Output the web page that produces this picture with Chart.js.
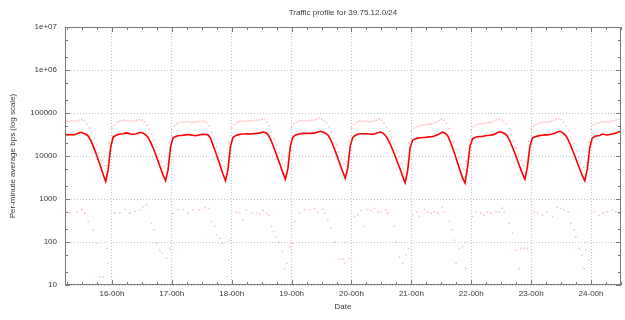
<!DOCTYPE html>
<html><head><meta charset="utf-8">
<script src="https://cdn.jsdelivr.net/npm/chart.js@4.4.1/dist/chart.umd.min.js"></script>
<style>html,body{margin:0;padding:0;background:#fff;}#wrap{width:625px;height:320px;}</style>
</head><body><div id="wrap"><canvas id="c" width="625" height="320"></canvas></div>
<script>
const TITLE = 'Traffic profile for 39.75.12.0/24';
const Y_TITLE = 'Per-minute average bps (log scale)';
const X_TITLE = 'Date';
const xTickDays = [16, 17, 18, 19, 20, 21, 22, 23, 24];
const yTickValues = [10, 100, 1000, 10000, 100000, 1000000, 10000000];
const yTickLabels = ['10', '100', '1000', '10000', '100000', '1e+06', '1e+07'];
const X_MIN = 15 + 5.2 / 24;
const X_MAX = 24.5;

// hourly average bps (samples at hh:30); day 15 starts at 04:30, others at 00:30
const avg15 = [31000, 31500, 31000, 31500, 31000, 32000, 34000, 35500, 34000, 32000, 29000, 23000, 17000, 12000, 8200, 5600, 3700, 2550, 4800, 16000];
const avg16 = [27500, 30000, 31500, 32500, 33000, 34500, 34000, 32500, 32000, 32500, 34000, 35500, 34000, 31000, 27000, 21000, 15500, 11000, 7600, 5200, 3600, 2650, 4800, 16500];
const avg17 = [26500, 28500, 29500, 30000, 30500, 31000, 31500, 31000, 30500, 29500, 30500, 31500, 32000, 31500, 31000, 26000, 18000, 12500, 8500, 5700, 3800, 2650, 4800, 16500];
const avg18 = [27000, 29500, 31000, 32000, 32500, 32500, 33000, 32500, 33000, 33500, 34000, 34500, 36000, 35000, 32000, 25000, 18000, 12500, 8700, 6000, 4100, 2880, 5000, 17000];
const avg19 = [27500, 30500, 32000, 33000, 33500, 33500, 33500, 33500, 34000, 34500, 36000, 37500, 36000, 34000, 31000, 25000, 18500, 13000, 9000, 6200, 4300, 3030, 5200, 17000];
const avg20 = [27000, 30000, 32000, 33000, 33000, 33000, 32500, 32500, 32000, 33000, 34500, 36500, 34500, 30500, 25000, 19000, 14000, 10000, 7000, 4900, 3400, 2390, 4500, 15500];
const avg21 = [23500, 25000, 26000, 26500, 27000, 27000, 27500, 28000, 28500, 29500, 31000, 33500, 36000, 34000, 30000, 22000, 15500, 10500, 7000, 4600, 3100, 2350, 5500, 17000];
const avg22 = [25000, 27000, 28000, 28500, 28500, 29500, 30000, 30500, 31000, 32500, 35000, 36500, 35000, 33000, 29000, 22000, 16000, 11500, 8000, 5500, 3900, 2880, 5500, 17000];
const avg23 = [26000, 28000, 29000, 30000, 30500, 31000, 31000, 31500, 32500, 34000, 36000, 37500, 35500, 31500, 26000, 19500, 14000, 10000, 7000, 4900, 3500, 2660, 5000, 16000];
const avg24 = [26000, 28500, 29500, 30000, 32500, 31500, 31000, 31500, 32500, 33500, 35000, 37000, 37500];

// hourly maxima (faint dots above); day 15 starts at 05:00, others at 00:00
const max15 = [62000, 64000, 63000, 66000, 64000, 65000, 68000, 70000, 66000, 55000, 45000, 36000, 26000, 18000, 12000, 8000, 6000, 6000, 20000];
const max16 = [44000, 52000, 60000, 64000, 66000, 68000, 67000, 65000, 64000, 66000, 67000, 70000, 68000, 62000, 52000, 42000, 32000, 23000, 16000, 11000, 7500, 5800, 6500, 21000];
const max17 = [42000, 50000, 56000, 60000, 61000, 62000, 63000, 62000, 60000, 61000, 62000, 64000, 65000, 64000, 60000, 50000, 36000, 25000, 17000, 11500, 7800, 5800, 6500, 21000];
const max18 = [45000, 54000, 60000, 63000, 65000, 64000, 66000, 65000, 66000, 67000, 68000, 69000, 72000, 70000, 62000, 50000, 36000, 25000, 17500, 12000, 8200, 6200, 7000, 22000];
const max19 = [46000, 56000, 62000, 65000, 66000, 67000, 66000, 67000, 68000, 69000, 72000, 75000, 72000, 67000, 60000, 48000, 36000, 26000, 18000, 12500, 8500, 6500, 7500, 22000];
const max20 = [44000, 54000, 61000, 64000, 65000, 64000, 64000, 63000, 63000, 65000, 68000, 72000, 68000, 58000, 47000, 37000, 27000, 19000, 13500, 9500, 6800, 5000, 6500, 20000];
const max21 = [38000, 44000, 48000, 50000, 52000, 53000, 54000, 55000, 56000, 58000, 61000, 66000, 72000, 68000, 58000, 43000, 30000, 21000, 14000, 9300, 6400, 5000, 7500, 22000];
const max22 = [40000, 48000, 53000, 55000, 56000, 57000, 58000, 60000, 61000, 64000, 69000, 72000, 69000, 64000, 56000, 43000, 31000, 22000, 15500, 11000, 7800, 6000, 7500, 22000];
const max23 = [42000, 50000, 55000, 58000, 60000, 61000, 61000, 62000, 64000, 67000, 71000, 74000, 70000, 61000, 50000, 38000, 27000, 19500, 13500, 9500, 7000, 5500, 7000, 21000];
const max24 = [42000, 52000, 57000, 59000, 62000, 63000, 61000, 62000, 64000, 66000, 69000, 72000, 74000];

// minima (faint dots below): [hour of day, bps]
const min15 = [[5.2,620],[7.2,470],[9.9,500],[11.9,570],[13.2,470],[14.5,300],[16.5,190],[17.9,93],[19.2,15.6],[20.5,15.6],[21.9,71],[22.5,32]];
const min16 = [[1.2,470],[3.2,480],[5.2,570],[7.2,470],[9.2,510],[11.2,560],[12.5,660],[13.9,730],[15.9,270],[16.8,190],[17.9,93],[19.2,65],[20.1,55],[21.9,42],[23.2,71]];
const min17 = [[0.5,470],[2.5,560],[4.5,570],[6.5,470],[8.5,560],[11.2,560],[13.2,640],[14.9,610],[15.9,300],[17.2,230],[17.9,145],[19.2,122],[20.3,93],[21.9,15.6],[22.9,38],[23.2,110]];
const min18 = [[1.9,500],[3.2,480],[4.5,320],[5.9,560],[7.9,470],[9.9,480],[11.2,450],[12.5,540],[13.9,470],[14.9,420],[15.9,230],[16.8,175],[17.9,130],[18.9,100],[20.3,60],[21.2,24],[22.1,32],[23.2,78]];
const min19 = [[0.3,93],[1.2,300],[3.2,470],[5.2,570],[7.2,560],[9.2,600],[10.5,500],[12.5,570],[13.2,470],[14.5,320],[15.9,210],[17.2,100],[19.2,40],[20.5,40],[21.2,32],[23.2,40]];
const min20 = [[1.2,390],[2.5,420],[3.9,540],[5.2,230],[6.5,570],[7.9,540],[9.2,610],[10.5,500],[11.9,500],[13.9,560],[14.5,470],[17.2,230],[17.9,100],[19.2,45],[20.5,32],[21.9,50],[22.9,71]];
const min21 = [[0.5,420],[2.1,500],[3.2,390],[5.2,570],[6.5,500],[7.9,470],[9.2,500],[10.5,470],[12.3,640],[13.2,500],[15.2,300],[16.3,190],[17.2,110],[17.9,32],[19.2,71],[20.5,78],[21.9,24]];
const min22 = [[0.5,390],[1.9,500],[3.9,470],[5.2,420],[6.5,500],[7.9,470],[9.9,500],[11.2,500],[12.5,610],[13.2,500],[15.2,270],[16.5,160],[18.1,65],[19.2,24],[19.9,71],[21.2,71],[22.5,71]];
const min23 = [[1.2,500],[2.5,470],[4.5,420],[6.5,500],[8.5,390],[10.5,640],[11.9,610],[13.2,560],[14.9,500],[15.9,270],[17.2,190],[17.9,130],[19.2,71],[20.3,50],[21.2,24],[21.9,65],[23.2,38]];
const min24 = [[1.2,500],[3.2,420],[4.8,470],[6.5,500],[8.5,560],[9.9,500],[11.2,470]];

// ---- build datasets ----
const avgDays = [[15, 4.5, avg15],[16, 0.5, avg16],[17, 0.5, avg17],[18, 0.5, avg18],[19, 0.5, avg19],[20, 0.5, avg20],[21, 0.5, avg21],[22, 0.5, avg22],[23, 0.5, avg23],[24, 0.5, avg24]];
const maxDays = [[15, 5, max15],[16, 0, max16],[17, 0, max17],[18, 0, max18],[19, 0, max19],[20, 0, max20],[21, 0, max21],[22, 0, max22],[23, 0, max23],[24, 0, max24]];
const minDays = [[15, min15],[16, min16],[17, min17],[18, min18],[19, min19],[20, min20],[21, min21],[22, min22],[23, min23],[24, min24]];
const hourlySeries = days => days.flatMap(([d, h0, vals]) => vals.map((v, i) => ({x: d + (h0 + i) / 24, y: v})));
const avgData = hourlySeries(avgDays);
const maxData = hourlySeries(maxDays);
const minData = minDays.flatMap(([d, pts]) => pts.map(([h, v]) => ({x: d + h / 24, y: v})));

const FONT = {family: "'Liberation Sans', Arial, sans-serif", size: 8, weight: 'normal'};
const TXT = '#3a3a3a';
const FRAME = '#7a7a7a';
const DOT = 'rgba(255,60,60,0.32)';

const framePlugin = {
  id: 'frameTicks',
  afterDatasetsDraw(chart) {
    const {ctx, chartArea: a, scales: {x, y}} = chart;
    ctx.save();
    ctx.strokeStyle = FRAME;
    ctx.lineWidth = 1;
    ctx.beginPath();
    for (let q = Math.ceil(X_MIN * 4); q <= Math.floor(X_MAX * 4); q++) {
      const px = Math.round(x.getPixelForValue(q / 4)) + 0.5;
      const len = q % 4 === 0 ? 5 : 3;
      ctx.moveTo(px, a.bottom); ctx.lineTo(px, a.bottom - len);
      ctx.moveTo(px, a.top); ctx.lineTo(px, a.top + len);
    }
    for (let e = 1; e <= 7; e++) {
      for (const m of [1, 2, 5]) {
        const v = m * Math.pow(10, e);
        if (v > 1e7) continue;
        const py = Math.round(y.getPixelForValue(v)) + 0.5;
        const len = m === 1 ? 5 : 3;
        ctx.moveTo(a.left, py); ctx.lineTo(a.left + len, py);
        ctx.moveTo(a.right, py); ctx.lineTo(a.right - len, py);
      }
    }
    ctx.stroke();
    ctx.strokeRect(a.left + 0.5, a.top + 0.5, a.right - a.left - 1, a.bottom - a.top - 1);
    ctx.restore();
  }
};

new Chart(document.getElementById('c'), {
  type: 'line',
  data: {
    datasets: [
      {label: 'average', data: avgData, borderColor: '#ff0000', borderWidth: 1.6, pointRadius: 0, tension: 0, order: 0},
      {label: 'max', data: maxData, showLine: false, pointRadius: 1.1, pointStyle: 'rect', backgroundColor: DOT, borderWidth: 0, order: 1},
      {label: 'min', data: minData, showLine: false, pointRadius: 1.1, pointStyle: 'rect', backgroundColor: DOT, borderWidth: 0, order: 1}
    ]
  },
  options: {
    responsive: false,
    animation: false,
    devicePixelRatio: 1,
    layout: {padding: {left: 0, right: 3, top: 0, bottom: 0}},
    plugins: {
      legend: {display: false},
      tooltip: {enabled: false},
      title: {display: true, text: TITLE, fullSize: false, color: TXT, font: FONT, padding: {top: 8, bottom: 9.4}}
    },
    scales: {
      x: {
        type: 'linear', min: X_MIN, max: X_MAX,
        afterBuildTicks: s => { s.ticks = xTickDays.map(v => ({value: v})); },
        afterFit: s => { s.height = 35; },
        ticks: {autoSkip: false, maxRotation: 0, padding: 4, color: TXT, font: FONT, callback: v => v + '-00h'},
        grid: {color: '#c2c2c2', lineWidth: 1, drawTicks: false},
        border: {display: false, dash: [1, 2]},
        title: {display: true, text: X_TITLE, color: TXT, font: FONT, padding: {top: 0, bottom: 8}}
      },
      y: {
        type: 'logarithmic', min: 10, max: 1e7,
        afterBuildTicks: s => { s.ticks = yTickValues.map(v => ({value: v})); },
        afterFit: s => { s.width = 65; },
        ticks: {autoSkip: false, padding: 8, color: TXT, font: FONT, callback: v => { const i = yTickValues.indexOf(v); return i >= 0 ? yTickLabels[i] : ''; }},
        grid: {color: '#c2c2c2', lineWidth: 1, drawTicks: false},
        border: {display: false, dash: [1, 2]},
        title: {display: true, text: Y_TITLE, color: TXT, font: FONT, padding: {top: 8, bottom: 0}}
      }
    }
  },
  plugins: [framePlugin]
});
</script>
</body></html>
